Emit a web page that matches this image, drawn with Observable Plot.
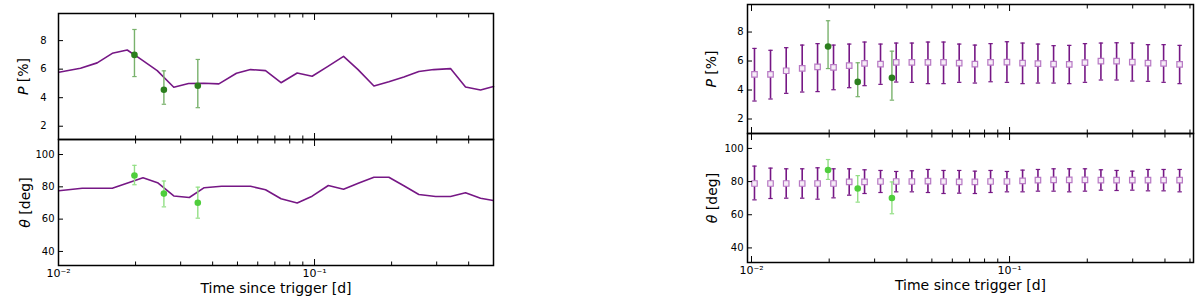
<!DOCTYPE html>
<html><head><meta charset="utf-8">
<script src="https://cdn.jsdelivr.net/npm/d3@7"></script>
<script src="https://cdn.jsdelivr.net/npm/@observablehq/plot@0.6"></script>
<style>
html,body{margin:0;padding:0;background:#fff;}
#root{position:relative;width:1200px;height:299px;overflow:hidden;font-family:"DejaVu Sans",sans-serif;background:#fff;}
.panel{position:absolute;}
</style></head><body><div id="root"></div>
<script>
// ---- model curve (left panel) ----
const modelTimeP = [0.01003, 0.01219, 0.01416, 0.01622, 0.01855, 0.02089, 0.02430, 0.02820, 0.03221, 0.03696, 0.04230, 0.04955, 0.05623, 0.06436, 0.07399, 0.08555, 0.09787, 0.1124, 0.1298, 0.1479, 0.1706, 0.1951, 0.2233, 0.2555, 0.2922, 0.3397, 0.3888, 0.4450, 0.5000];
const modelP = [5.78, 6.06, 6.44, 7.11, 7.34, 6.72, 5.90, 4.73, 4.99, 5.01, 4.97, 5.71, 5.97, 5.90, 5.05, 5.73, 5.50, 6.18, 6.90, 5.97, 4.82, 5.12, 5.45, 5.83, 5.97, 6.04, 4.75, 4.54, 4.78];
const modelTimeTheta = [0.01003, 0.01238, 0.01622, 0.02138, 0.02437, 0.02820, 0.03243, 0.03708, 0.04335, 0.05623, 0.06436, 0.07399, 0.08555, 0.09787, 0.1132, 0.1298, 0.1490, 0.1706, 0.1951, 0.2233, 0.2555, 0.2972, 0.3397, 0.3888, 0.4450, 0.4990];
const modelTheta = [77.55, 79.16, 79.16, 85.59, 82.56, 74.34, 73.41, 79.47, 80.33, 80.33, 78.23, 72.60, 70.01, 74.21, 80.83, 78.54, 82.37, 85.90, 85.90, 80.64, 75.26, 74.03, 74.03, 76.31, 72.98, 71.55];

// ---- observations (green) ----
const obsTime = [0.0198, 0.0258, 0.0350];
const obsP = [7.00, 4.56, 4.84];
const obsPLow = [5.48, 3.54, 3.30];
const obsPHigh = [8.78, 5.88, 6.68];
const obsTheta = [87.0, 75.8, 70.1];
const obsThetaLow = [81.3, 67.6, 60.6];
const obsThetaHigh = [93.3, 83.6, 79.8];

// ---- simulated points with error bars (right panel) ----
const simTime = [0.01027, 0.01185, 0.01363, 0.01572, 0.01803, 0.02079, 0.02391, 0.02742, 0.03162, 0.03637, 0.04182, 0.04827, 0.05548, 0.06379, 0.07337, 0.08441, 0.09766, 0.1123, 0.1288, 0.1481, 0.1703, 0.1959, 0.2259, 0.2598, 0.2989, 0.3438, 0.3952, 0.4559];
const simP = [5.08, 5.08, 5.33, 5.49, 5.59, 5.56, 5.68, 5.84, 5.79, 5.91, 5.91, 5.91, 5.91, 5.86, 5.79, 5.91, 5.93, 5.86, 5.82, 5.79, 5.77, 5.89, 6.00, 6.00, 5.93, 5.86, 5.84, 5.77];
const simPLow = [3.24, 3.38, 3.77, 3.86, 3.89, 4.02, 4.16, 4.30, 4.39, 4.55, 4.53, 4.44, 4.44, 4.53, 4.48, 4.57, 4.53, 4.44, 4.48, 4.48, 4.44, 4.53, 4.69, 4.69, 4.62, 4.60, 4.53, 4.44];
const simPHigh = [6.87, 6.74, 6.92, 7.10, 7.20, 7.10, 7.17, 7.31, 7.17, 7.24, 7.24, 7.31, 7.31, 7.17, 7.10, 7.20, 7.33, 7.24, 7.17, 7.06, 7.08, 7.20, 7.24, 7.26, 7.24, 7.13, 7.13, 7.08];
const simTheta = [78.85, 78.85, 78.85, 78.85, 78.85, 78.85, 79.86, 79.86, 80.06, 80.06, 80.06, 80.26, 80.06, 79.86, 79.86, 80.06, 80.06, 80.46, 80.87, 81.07, 81.07, 81.07, 80.87, 80.87, 80.87, 80.87, 80.87, 80.87];
const simThetaLow = [68.98, 69.79, 69.99, 69.99, 69.39, 70.19, 71.80, 72.81, 73.41, 73.82, 73.82, 73.41, 72.81, 73.01, 72.81, 73.41, 73.82, 73.82, 74.22, 74.22, 73.82, 74.22, 74.82, 74.62, 74.82, 74.42, 74.42, 73.82];
const simThetaHigh = [89.33, 88.12, 87.71, 87.71, 88.32, 87.71, 87.71, 87.11, 86.71, 86.10, 86.51, 87.31, 86.71, 86.71, 86.30, 86.71, 86.10, 86.91, 87.31, 87.71, 87.71, 87.71, 87.11, 86.71, 86.30, 87.31, 87.31, 87.31];

// ---- ticks ----
const majorTicks = [0.01, 0.1];
const minorTicks = [0.02, 0.03, 0.04, 0.05, 0.06, 0.07, 0.08, 0.09, 0.2, 0.3, 0.4, 0.5];
const pTicks = [2, 4, 6, 8];
const thetaTicks = [40, 60, 80, 100];
const xTickText = {0.01: "10\u207B\u00B2", 0.1: "10\u207B\u00B9"};
const xLabel = "Time since trigger [d]";

const PURPLE = "#761785";
const rows = (t, v, lo, hi) => t.map((d, i) => ({t: d, v: v[i], lo: lo ? lo[i] : null, hi: hi ? hi[i] : null}));
const capSymbol = {draw(ctx, size) { const w = Math.sqrt(size / Math.PI); ctx.moveTo(-w, 0); ctx.lineTo(w, 0); }};

function errMarks(data, barColor, capColor, barWidth) {
  return [
    Plot.ruleX(data, {x: "t", y1: "lo", y2: "hi", stroke: barColor, strokeWidth: barWidth}),
    Plot.dot(data, {x: "t", y: "lo", symbol: capSymbol, r: 2.2, stroke: capColor, strokeWidth: 1.2}),
    Plot.dot(data, {x: "t", y: "hi", symbol: capSymbol, r: 2.2, stroke: capColor, strokeWidth: 1.2})
  ];
}

function panel(cfg) {
  const {left, top, width, height, marginLeft, marginBottom, xDomain, yDomain, yTicks, yTickPad, yLabelHTML, yLabelOffset, showX, marks} = cfg;
  const fmtEmpty = () => "";
  const el = Plot.plot({
    width, height, marginLeft, marginRight: 0, marginTop: 0, marginBottom,
    style: {background: "none", overflow: "visible", fontFamily: "DejaVu Sans", fontSize: "10px", color: "black"},
    x: {type: "log", domain: xDomain},
    y: {domain: yDomain},
    marks: [
      ...marks,
      Plot.axisX(majorTicks, {anchor: "bottom", tickSize: -6, tickPadding: 10, tickFormat: showX ? (d => xTickText[d]) : fmtEmpty, label: showX ? xLabel : null, labelArrow: "none", labelAnchor: "center", labelOffset: 27, fontSize: 11}),
      Plot.axisX(minorTicks, {anchor: "bottom", tickSize: -3.5, tickFormat: fmtEmpty, label: null}),
      Plot.axisX(majorTicks, {anchor: "top", tickSize: -6, tickFormat: fmtEmpty, label: null}),
      Plot.axisX(minorTicks, {anchor: "top", tickSize: -3.5, tickFormat: fmtEmpty, label: null}),
      Plot.axisY(yTicks, {anchor: "left", tickSize: -5, tickPadding: yTickPad, label: "Y", labelArrow: "none", labelAnchor: "center", labelOffset: yLabelOffset, fontSize: 10}),
      Plot.frame({stroke: "black", strokeWidth: 1.5})
    ]
  });
  // typeset labels
  el.querySelectorAll('[aria-label="y-axis label"] text').forEach(t => { t.innerHTML = yLabelHTML; t.style.fontSize = "14px"; });
  el.querySelectorAll('[aria-label="x-axis label"] text').forEach(t => { t.style.fontSize = "14px"; });
  const div = document.createElement("div");
  div.className = "panel";
  div.style.left = left + "px";
  div.style.top = top + "px";
  div.appendChild(el);
  document.getElementById("root").appendChild(div);
}

const modelPRows = rows(modelTimeP, modelP);
const modelThetaRows = rows(modelTimeTheta, modelTheta);
const obsPRows = rows(obsTime, obsP, obsPLow, obsPHigh);
const obsThetaRows = rows(obsTime, obsTheta, obsThetaLow, obsThetaHigh);
const simPRows = rows(simTime, simP, simPLow, simPHigh);
const simThetaRows = rows(simTime, simTheta, simThetaLow, simThetaHigh);

const pLabel = '<tspan font-style="italic">P</tspan> [%]';
const thLabel = '<tspan font-style="italic">\u03B8</tspan> [deg]';

const greenP = "#2c7f1e", greenPBar = "#79b26c";
const greenT = "#4fce3c", greenTBar = "#93df85";

// Left top
panel({left: 0, top: 13, width: 493, height: 126, marginLeft: 58, marginBottom: 0,
  xDomain: [0.01, 0.5], yDomain: [1.07, 9.9], yTicks: pTicks, yTickPad: 17, yLabelHTML: pLabel, yLabelOffset: 40, showX: false,
  marks: [
    Plot.line(modelPRows, {x: "t", y: "v", stroke: PURPLE, strokeWidth: 1.6}),
    ...errMarks(obsPRows, greenPBar, greenPBar, 1.4),
    Plot.dot(obsPRows, {x: "t", y: "v", r: 3.3, fill: greenP})
  ]});
// Left bottom
panel({left: 0, top: 139, width: 493, height: 160, marginLeft: 58, marginBottom: 34,
  xDomain: [0.01, 0.5], yDomain: [31.3, 109.3], yTicks: thetaTicks, yTickPad: 9, yLabelHTML: thLabel, yLabelOffset: 38, showX: true,
  marks: [
    Plot.line(modelThetaRows, {x: "t", y: "v", stroke: PURPLE, strokeWidth: 1.6}),
    ...errMarks(obsThetaRows, greenTBar, greenTBar, 1.4),
    Plot.dot(obsThetaRows, {x: "t", y: "v", r: 3.3, fill: greenT})
  ]});
// Right top
panel({left: 700, top: 4, width: 493, height: 129, marginLeft: 47, marginBottom: 0,
  xDomain: [0.00965, 0.516], yDomain: [1.0, 9.9], yTicks: pTicks, yTickPad: 9, yLabelHTML: pLabel, yLabelOffset: 41, showX: false,
  marks: [
    ...errMarks(simPRows, PURPLE, PURPLE, 1.6),
    Plot.dot(simPRows, {x: "t", y: "v", symbol: "square", r: 3.1, stroke: "#b778c4", strokeWidth: 1.2, fill: "#f6edf7"}),
    ...errMarks(obsPRows, greenPBar, greenPBar, 1.4),
    Plot.dot(obsPRows, {x: "t", y: "v", r: 3.3, fill: greenP})
  ]});
// Right bottom
panel({left: 700, top: 133, width: 493, height: 163, marginLeft: 47, marginBottom: 34,
  xDomain: [0.00965, 0.516], yDomain: [31.2, 109], yTicks: thetaTicks, yTickPad: 9, yLabelHTML: thLabel, yLabelOffset: 40, showX: true,
  marks: [
    ...errMarks(simThetaRows, PURPLE, PURPLE, 1.6),
    Plot.dot(simThetaRows, {x: "t", y: "v", symbol: "square", r: 3.1, stroke: "#b778c4", strokeWidth: 1.2, fill: "#f6edf7"}),
    ...errMarks(obsThetaRows, greenTBar, greenTBar, 1.4),
    Plot.dot(obsThetaRows, {x: "t", y: "v", r: 3.3, fill: greenT})
  ]});
</script></body></html>
